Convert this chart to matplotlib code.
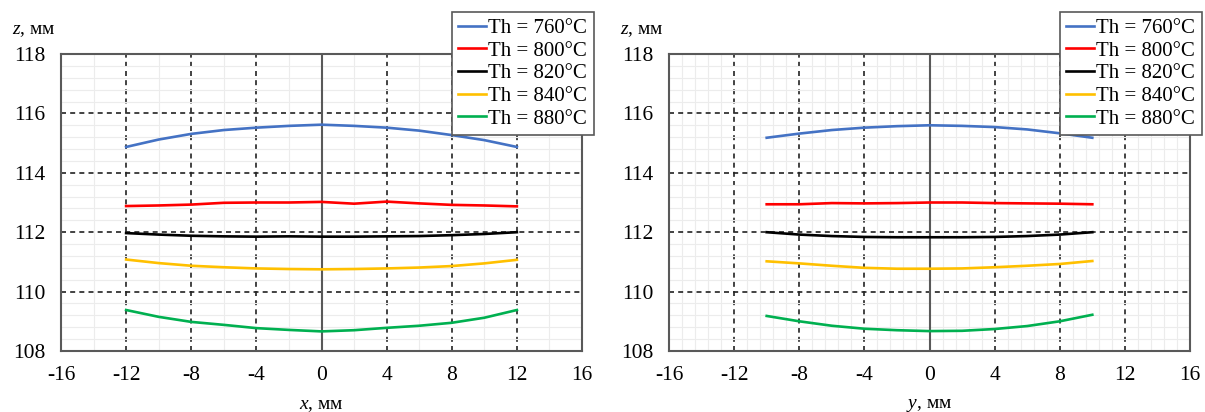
import numpy as np
import matplotlib
matplotlib.use('Agg')
import matplotlib.pyplot as plt
from matplotlib.ticker import MultipleLocator

plt.rcParams['font.family'] = ['Liberation Serif', 'DejaVu Serif']
plt.rcParams['axes.unicode_minus'] = False
plt.rcParams['mathtext.fontset'] = 'custom'
plt.rcParams['mathtext.rm'] = 'Liberation Serif'
plt.rcParams['mathtext.it'] = 'Liberation Serif:italic'

# data
labels = ['Th = 760°C', 'Th = 800°C', 'Th = 820°C', 'Th = 840°C', 'Th = 880°C']
colors = ['#4472C4', '#FF0000', '#000000', '#FFC000', '#00B050']

x_left = [-12, -10, -8, -6, -4, -2, 0, 2, 4, 6, 8, 10, 12]
z760_x = [114.87, 115.12, 115.31, 115.44, 115.52, 115.58, 115.62, 115.58, 115.52, 115.42, 115.27, 115.10, 114.87]
z800_x = [112.88, 112.90, 112.93, 112.99, 113.00, 113.00, 113.02, 112.96, 113.03, 112.97, 112.92, 112.90, 112.87]
z820_x = [111.97, 111.92, 111.88, 111.86, 111.85, 111.86, 111.85, 111.85, 111.86, 111.87, 111.90, 111.94, 112.00]
z840_x = [111.08, 110.96, 110.87, 110.82, 110.78, 110.76, 110.75, 110.76, 110.78, 110.81, 110.86, 110.95, 111.07]
z880_x = [109.38, 109.15, 108.98, 108.88, 108.77, 108.71, 108.66, 108.70, 108.78, 108.85, 108.95, 109.12, 109.38]

y_right = [-10, -8, -6, -4, -2, 0, 2, 4, 6, 8, 10]
z760_y = [115.18, 115.32, 115.44, 115.52, 115.57, 115.60, 115.58, 115.54, 115.46, 115.33, 115.18]
z800_y = [112.94, 112.94, 112.98, 112.97, 112.98, 113.00, 113.00, 112.98, 112.97, 112.96, 112.94]
z820_y = [112.00, 111.92, 111.87, 111.84, 111.83, 111.83, 111.83, 111.84, 111.87, 111.92, 112.00]
z840_y = [111.02, 110.95, 110.87, 110.80, 110.77, 110.77, 110.78, 110.82, 110.87, 110.93, 111.03]
z880_y = [109.18, 109.00, 108.85, 108.75, 108.70, 108.67, 108.68, 108.74, 108.84, 109.00, 109.22]

fig = plt.figure(figsize=(12.05, 4.12), dpi=100)
ax1 = fig.add_axes([61/1205, 61/412, 521/1205, 297/412])
ax2 = fig.add_axes([669/1205, 61/412, 521/1205, 297/412])


def style(ax, xminor, xlab, leg_x):
    ax.set_xlim(-16, 16)
    ax.set_ylim(108, 118)
    ax.xaxis.set_major_locator(MultipleLocator(4))
    ax.yaxis.set_major_locator(MultipleLocator(2))
    ax.xaxis.set_minor_locator(MultipleLocator(xminor))
    ax.yaxis.set_minor_locator(MultipleLocator(0.4))
    ax.set_axisbelow(True)
    ax.grid(which='minor', color='#ececec', lw=0.8)
    ax.grid(which='major', color='#222222', lw=1.2, ls=(0, (3, 2.5)))
    ax.axvline(0, color='#595959', lw=1.5, zorder=1.5)
    ax.tick_params(which='both', length=0, labelsize=15.5, pad=11)
    for s in ax.spines.values():
        s.set_color('#595959')
        s.set_linewidth(1.5)
    ax.text(-0.095, 1.08, r'$z$, мм', transform=ax.transAxes, fontsize=14, va='center')
    ax.text(0.5, -0.185, xlab, transform=ax.transAxes, fontsize=14, ha='center', va='center')
    ax.legend(loc='upper left', bbox_to_anchor=(leg_x, 1 - 12/412), bbox_transform=fig.transFigure,
              borderaxespad=0, fontsize=15, frameon=True, fancybox=False, edgecolor='#595959',
              handlelength=1.35, handletextpad=0.1, labelspacing=0.15, borderpad=0.3,
              framealpha=1)
    ax.get_legend().get_frame().set_linewidth(1.2)


for zs, c, lab in zip([z760_x, z800_x, z820_x, z840_x, z880_x], colors, labels):
    ax1.plot(x_left, zs, color=c, lw=1.9, label=lab, zorder=3)
for zs, c, lab in zip([z760_y, z800_y, z820_y, z840_y, z880_y], colors, labels):
    ax2.plot(y_right, zs, color=c, lw=1.9, label=lab, zorder=3)

style(ax1, 2, r'$x$, мм', 452/1205)
style(ax2, 0.8, r'$y$, мм', 1060/1205)

fig.savefig('out.png', dpi=100)
